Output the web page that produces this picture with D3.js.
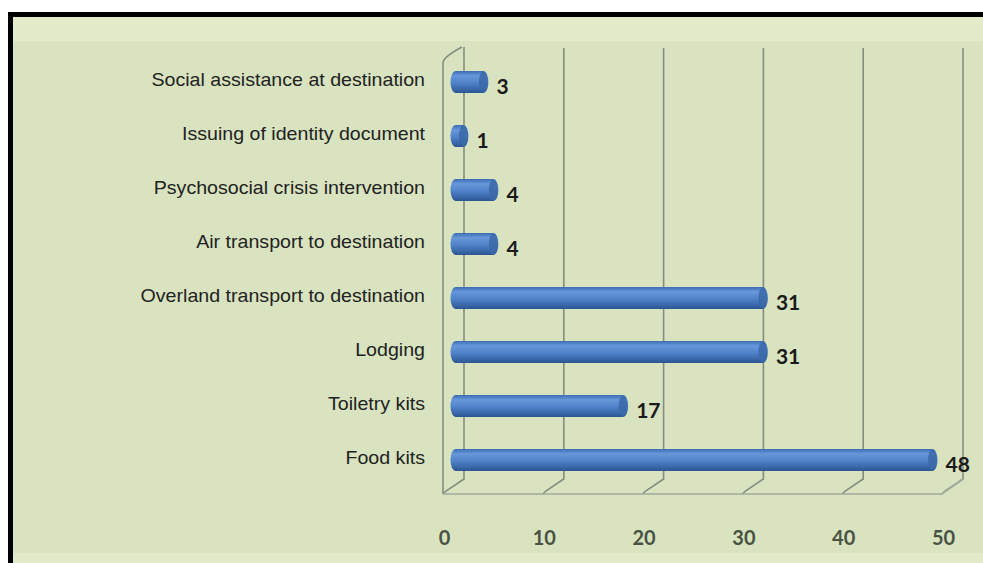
<!DOCTYPE html>
<html>
<head>
<meta charset="utf-8">
<script src="https://cdn.jsdelivr.net/npm/d3@7"></script>
<style>
  body { margin: 0; background: #fff; }
  svg { display: block; }
</style>
</head>
<body>
<svg id="chart"></svg>
<script>
var categories = [
    "Social assistance at destination",
    "Issuing of identity document",
    "Psychosocial crisis intervention",
    "Air transport to destination",
    "Overland transport to destination",
    "Lodging",
    "Toiletry kits",
    "Food kits"
];
var values = [3, 1, 4, 4, 31, 31, 17, 48];
var tickValues = [0, 10, 20, 30, 40, 50];

var width = 983, height = 563;
var depthX = 21, depthY = 15;   // 3D offset of back wall
var floorY = 494;
var wallTop = 47;

var svg = d3.select("#chart")
    .attr("width", width)
    .attr("height", height);

// frame and background
svg.append("rect").attr("x", 8).attr("y", 12).attr("width", width - 8).attr("height", height - 12).attr("fill", "#000");
svg.append("rect").attr("x", 13).attr("y", 17).attr("width", width - 13).attr("height", height - 17).attr("fill", "#d9e3c0");
svg.append("rect").attr("x", 13).attr("y", 17).attr("width", width - 13).attr("height", 24).attr("fill", "#e3ecca");
svg.append("rect").attr("x", 13).attr("y", 553).attr("width", width - 13).attr("height", 10).attr("fill", "#e2ebc9");

// scales: front edge of the floor, back wall, middle depth for bars
var xFront = d3.scaleLinear().domain([0, 50]).range([443, 942]);
var xBack = function (v) { return xFront(v) + depthX; };
var xMid = function (v) { return xFront(v) + depthX / 2; };

var y = d3.scalePoint()
    .domain(categories)
    .range([55, 487])
    .padding(0.5);

var barH = 22;

// gradient for the cylinders
var defs = svg.append("defs");
var grad = defs.append("linearGradient")
    .attr("id", "cyl")
    .attr("x1", "0%").attr("x2", "0%")
    .attr("y1", "0%").attr("y2", "100%");
grad.append("stop").attr("offset", "0%").attr("stop-color", "#3c6db2");
grad.append("stop").attr("offset", "22%").attr("stop-color", "#6897da");
grad.append("stop").attr("offset", "55%").attr("stop-color", "#4f82c9");
grad.append("stop").attr("offset", "100%").attr("stop-color", "#2b5593");

// back wall gridlines with floor diagonals
var grid = svg.append("g")
    .attr("fill", "none")
    .attr("stroke", "#858d80")
    .attr("stroke-width", 1.6);

grid.selectAll("path.grid")
    .data(tickValues)
    .enter()
    .append("path")
    .attr("class", "grid")
    .attr("d", function (d) {
        return "M" + xBack(d) + "," + (wallTop + (d === 0 ? 0 : 1)) +
            "L" + xBack(d) + "," + (floorY - depthY) +
            "L" + (xFront(d) + 3) + "," + (floorY - 3) +
            "L" + xFront(d) + "," + floorY;
    });

// left side wall
grid.append("path")
    .attr("d", "M" + xFront(0) + "," + floorY +
        "L" + xFront(0) + "," + (wallTop + 16) +
        "Q" + xFront(0) + "," + (wallTop + 10) + " " + (xBack(0) - 2) + "," + wallTop);

// floor front edge and right side
grid.append("path")
    .attr("stroke", "#a3ab9c")
    .attr("d", "M" + xFront(0) + "," + floorY +
        "L" + xFront(50) + "," + floorY +
        "L" + xBack(50) + "," + (floorY - depthY));

// bars
var bars = svg.append("g")
    .selectAll("g")
    .data(values)
    .enter()
    .append("g");

bars.append("rect")
    .attr("x", xMid(0) - 3)
    .attr("y", function (d, i) { return y(categories[i]) - barH / 2; })
    .attr("width", function (d) { return xMid(d) - xMid(0) + 8; })
    .attr("height", barH)
    .attr("rx", 5)
    .attr("ry", barH / 2)
    .attr("fill", "url(#cyl)");

bars.append("ellipse")
    .attr("cx", function (d) { return xMid(d); })
    .attr("cy", function (d, i) { return y(categories[i]); })
    .attr("rx", 4.5)
    .attr("ry", barH / 2 - 0.5)
    .attr("fill", "#3b68a8")
    .attr("opacity", 0.85);

// value labels
bars.append("text")
    .attr("x", function (d) { return xMid(d) + 13; })
    .attr("y", function (d, i) { return y(categories[i]) + 12; })
    .attr("font-family", "Lato, 'Open Sans', sans-serif")
    .attr("font-weight", 700)
    .attr("font-size", 21)
    .attr("fill", "#1a1a1a")
    .text(function (d) { return d; });

// category labels (slightly stretched horizontally like the source)
svg.append("g")
    .selectAll("text")
    .data(categories)
    .enter()
    .append("text")
    .attr("transform", function (d) {
        return "translate(425," + (y(d) + 4) + ") scale(1.09,1)";
    })
    .attr("text-anchor", "end")
    .attr("font-family", "'Liberation Sans', Arial, sans-serif")
    .attr("font-size", 18)
    .attr("fill", "#222")
    .text(function (d) { return d; });

// x axis labels
var xAxis = d3.axisBottom(xFront)
    .tickValues(tickValues)
    .tickSize(0)
    .tickPadding(0);

var axisG = svg.append("g")
    .attr("transform", "translate(1,531)")
    .call(xAxis);
axisG.select(".domain").remove();
axisG.selectAll("text")
    .attr("font-family", "Lato, 'Open Sans', sans-serif")
    .attr("font-size", 20)
    .attr("font-weight", 700)
    .attr("fill", "#4a5343");
</script>
</body>
</html>
